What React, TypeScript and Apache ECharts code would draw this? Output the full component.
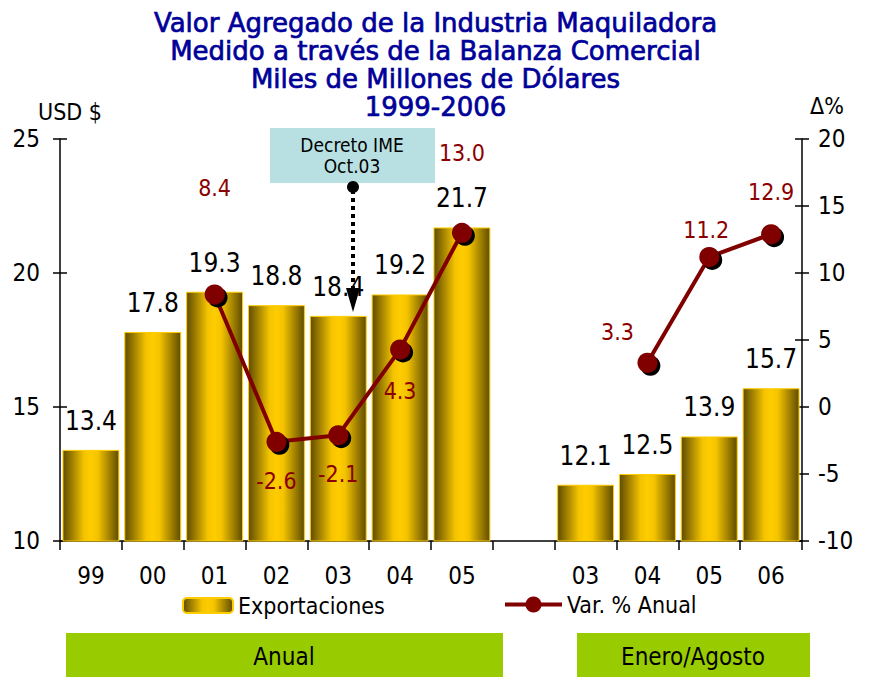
import React, { useEffect, useRef } from 'react';
import * as echarts from 'echarts';

const categories = ['99', '00', '01', '02', '03', '04', '05', '', '03', '04', '05', '06'];
const exportaciones: (number | null)[] = [13.4, 17.8, 19.3, 18.8, 18.4, 19.2, 21.7, null, 12.1, 12.5, 13.9, 15.7];
const variacion: (number | null)[] = [null, null, 8.4, -2.6, -2.1, 4.3, 13.0, null, null, 3.3, 11.2, 12.9];
const leftTicks = { min: 10, max: 25, interval: 5 };
const rightTicks = { min: -10, max: 20, interval: 5 };

// label placement for the line values (style, not data)
const varLabelPlacement: { pos: string; off: number[] }[] = [
  { pos: 'top', off: [0, 0] },
  { pos: 'top', off: [0, 0] },
  { pos: 'top', off: [0, -80] },
  { pos: 'bottom', off: [0, 13] },
  { pos: 'bottom', off: [0, 12] },
  { pos: 'bottom', off: [0, 15] },
  { pos: 'top', off: [0, -53] },
  { pos: 'top', off: [0, 0] },
  { pos: 'top', off: [0, 0] },
  { pos: 'top', off: [-30, -4] },
  { pos: 'top', off: [-3, 0] },
  { pos: 'top', off: [0, -16] },
];

const FONT = "'DejaVu Sans Condensed', 'Liberation Sans Narrow', 'DejaVu Sans', sans-serif";
const TITLE_FONT = "'DejaVu Sans', sans-serif";

export default function App() {
  const ref = useRef<HTMLDivElement>(null);
  useEffect(() => {
    document.body.style.margin = '0';
    if (!ref.current) return;
    const chart = echarts.init(ref.current, undefined, { renderer: 'svg' });
    const barGrad = new echarts.graphic.LinearGradient(0, 0, 1, 0, [
      { offset: 0, color: '#5f4c00' },
      { offset: 0.38, color: '#f5c400' },
      { offset: 0.5, color: '#ffcc00' },
      { offset: 0.62, color: '#f5c400' },
      { offset: 1, color: '#5f4c00' },
    ]);
    const axisBlack = { lineStyle: { color: '#000', width: 1.5 } };
    chart.setOption({
      animation: false,
      textStyle: { fontFamily: FONT },
      title: {
        text: 'Valor Agregado de la Industria Maquiladora\nMedido a través de la Balanza Comercial\nMiles de Millones de Dólares\n1999-2006',
        left: 'center',
        top: 4,
        textStyle: {
          fontFamily: TITLE_FONT,
          fontSize: 26,
          lineHeight: 28,
          color: '#000099',
          fontWeight: 'normal',
          textBorderColor: '#000099',
          textBorderWidth: 0.7,
        },
      },
      grid: { left: 60, right: 69, top: 139, bottom: 136 },
      legend: [
        {
          data: ['Exportaciones'],
          left: 177,
          top: 589,
          itemWidth: 50,
          itemHeight: 15,
          textStyle: { fontFamily: FONT, fontSize: 23, color: '#000' },
        },
        {
          data: ['Var. % Anual'],
          left: 498,
          top: 588,
          itemWidth: 57,
          itemHeight: 20,
          lineStyle: { width: 4 },
          textStyle: { fontFamily: FONT, fontSize: 23, color: '#000' },
        },
      ],
      xAxis: {
        type: 'category',
        data: categories,
        boundaryGap: true,
        axisLine: { onZero: false, ...axisBlack },
        axisTick: { show: true, interval: 0, length: 9, lineStyle: { color: '#000', width: 1.5 } },
        axisLabel: { interval: 0, fontSize: 24, color: '#000', margin: 23, fontFamily: FONT },
      },
      yAxis: [
        {
          type: 'value',
          position: 'left',
          ...leftTicks,
          axisLine: { show: true, ...axisBlack },
          axisTick: { show: true, length: 7, lineStyle: { color: '#000', width: 1.5 } },
          axisLabel: { fontSize: 24, color: '#000', margin: 20, fontFamily: FONT },
          splitLine: { show: false },
        },
        {
          type: 'value',
          position: 'right',
          ...rightTicks,
          axisLine: { show: true, ...axisBlack },
          axisTick: { show: true, length: 7, lineStyle: { color: '#000', width: 1.5 } },
          axisLabel: { fontSize: 24, color: '#000', margin: 16, fontFamily: FONT },
          splitLine: { show: false },
        },
        {
          type: 'value',
          position: 'left',
          ...leftTicks,
          axisLine: { show: false },
          axisTick: { show: true, inside: true, length: 7, lineStyle: { color: '#000', width: 1.5 } },
          axisLabel: { show: false },
          splitLine: { show: false },
        },
        {
          type: 'value',
          position: 'right',
          ...rightTicks,
          axisLine: { show: false },
          axisTick: { show: true, inside: true, length: 7, lineStyle: { color: '#000', width: 1.5 } },
          axisLabel: { show: false },
          splitLine: { show: false },
        },
      ],
      series: [
        {
          name: 'Exportaciones',
          type: 'bar',
          yAxisIndex: 0,
          barCategoryGap: '8%',
          data: exportaciones.map((v) => (v === null ? '-' : v)),
          itemStyle: { color: barGrad, borderColor: '#ffcc00', borderWidth: 1 },
          label: {
            show: true,
            position: 'top',
            distance: 16,
            fontSize: 26,
            color: '#000',
            fontFamily: FONT,
            formatter: (p: any) => Number(p.value).toFixed(1),
          },
        },
        {
          name: 'Var. % Anual',
          type: 'line',
          yAxisIndex: 1,
          connectNulls: false,
          symbol: 'circle',
          symbolSize: 20,
          lineStyle: { color: '#800000', width: 4 },
          itemStyle: {
            color: '#800000',
            shadowColor: '#000',
            shadowOffsetX: 3,
            shadowOffsetY: 3,
            shadowBlur: 0,
          },
          data: variacion.map((v, i) =>
            v === null
              ? '-'
              : {
                  value: v,
                  label: {
                    show: true,
                    position: varLabelPlacement[i].pos,
                    offset: varLabelPlacement[i].off,
                  },
                }
          ),
          label: {
            show: true,
            fontSize: 23,
            color: '#8b0000',
            fontFamily: FONT,
            formatter: (p: any) => Number(p.value).toFixed(1),
          },
          z: 5,
        },
      ],
      graphic: [
        {
          type: 'text',
          left: 38,
          top: 100,
          style: { text: 'USD $', fontSize: 23, fill: '#000', fontFamily: FONT },
        },
        {
          type: 'text',
          left: 810,
          top: 94,
          style: { text: 'Δ%', fontSize: 23, fill: '#000', fontFamily: FONT },
        },
        {
          type: 'rect',
          shape: { x: 270, y: 128, width: 165, height: 55 },
          style: { fill: '#b8e0e2' },
          z: 10,
        },
        {
          type: 'text',
          x: 352,
          y: 145,
          style: {
            text: 'Decreto IME',
            fontSize: 19,
            fill: '#000',
            align: 'center',
            verticalAlign: 'middle',
            fontFamily: FONT,
          },
          z: 11,
        },
        {
          type: 'text',
          x: 352,
          y: 166,
          style: {
            text: 'Oct.03',
            fontSize: 19,
            fill: '#000',
            align: 'center',
            verticalAlign: 'middle',
            fontFamily: FONT,
          },
          z: 11,
        },
        {
          type: 'line',
          shape: { x1: 353, y1: 190, x2: 353, y2: 290 },
          style: { stroke: '#000', lineWidth: 4, lineDash: [4, 4] },
          z: 11,
        },
        {
          type: 'circle',
          shape: { cx: 353, cy: 187, r: 6 },
          style: { fill: '#000' },
          z: 11,
        },
        {
          type: 'polygon',
          shape: { points: [[346, 288], [360, 288], [353, 312]] },
          style: { fill: '#000' },
          z: 11,
        },
        {
          type: 'rect',
          shape: { x: 66, y: 633, width: 437, height: 44 },
          style: { fill: '#99cc00' },
        },
        {
          type: 'text',
          x: 284,
          y: 657,
          style: { text: 'Anual', fontSize: 24, fill: '#000', align: 'center', verticalAlign: 'middle', fontFamily: FONT },
        },
        {
          type: 'rect',
          shape: { x: 577, y: 633, width: 233, height: 44 },
          style: { fill: '#99cc00' },
        },
        {
          type: 'text',
          x: 693,
          y: 657,
          style: { text: 'Enero/Agosto', fontSize: 24, fill: '#000', align: 'center', verticalAlign: 'middle', fontFamily: FONT },
        },
      ],
    });
    return () => chart.dispose();
  }, []);
  return <div ref={ref} style={{ width: 871, height: 677 }} />;
}
